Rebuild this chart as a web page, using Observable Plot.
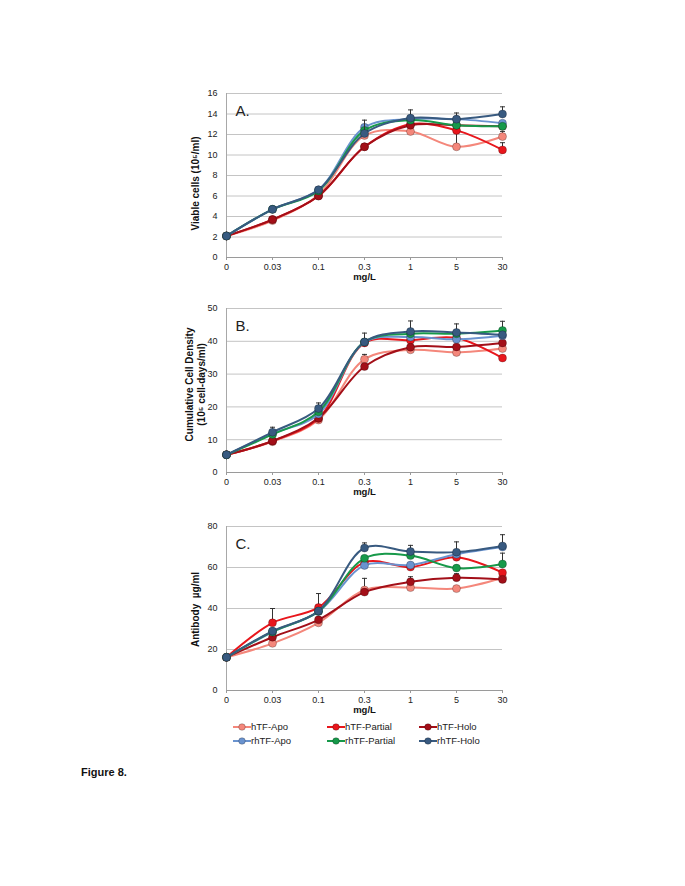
<!DOCTYPE html>
<html><head><meta charset="utf-8">
<script src="https://cdn.jsdelivr.net/npm/d3@7"></script>
<script src="https://cdn.jsdelivr.net/npm/@observablehq/plot@0.6"></script>
<style>
body{margin:0;background:#fff;font-family:"Liberation Sans",Arial,sans-serif;}
#page{position:relative;width:685px;height:886px;overflow:hidden;background:#fff;}
.panel{position:absolute;left:180px;}
.li{position:absolute;font-size:9.5px;color:#222;white-space:nowrap;line-height:12px;}
.li svg{position:absolute;top:1px;}
#fig{position:absolute;left:81px;top:766px;font-size:11px;font-weight:bold;color:#111;}
</style></head>
<body><div id="page"></div>
<script>
const doses = ["0","0.03","0.1","0.3","1","5","30"];
const series = ["hTF-Apo","hTF-Partial","hTF-Holo","rhTF-Apo","rhTF-Partial","rhTF-Holo"];
const colors = ["#f4877b","#e8161c","#a30f18","#6a93cf","#17994a","#385a80"];

// Panel A: Viable cells (10^5/ml)
const viable_hApo  = [2.1,3.6,6.1,11.9,12.3,10.8,11.8];
const viable_hPart = [2.1,3.7,6.0,10.8,13.0,12.4,10.5];
const viable_hHolo = [2.1,3.7,6.0,10.8,12.9,12.9,12.8];
const viable_rApo  = [2.1,4.7,6.6,12.7,13.5,13.5,13.1];
const viable_rPart = [2.1,4.7,6.5,12.4,13.4,12.9,12.8];
const viable_rHolo = [2.1,4.7,6.6,12.1,13.6,13.5,14.0];
const viable_err = [[5,3,1.3],[5,4,0.8],[5,5,0.6],[5,6,0.7],[0,5,2.0],[1,6,0.7],[0,6,0.5]]; // [series, dose, +err]

// Panel B: Cumulative cell density
const ccd_hApo  = [5.4,9.4,16.0,34.5,37.4,36.6,37.8];
const ccd_hPart = [5.4,9.6,16.5,39.5,40.3,41.0,34.9];
const ccd_hHolo = [5.4,9.6,16.6,32.3,38.2,38.3,39.5];
const ccd_rApo  = [5.4,11.8,17.8,39.7,41.3,40.6,41.7];
const ccd_rPart = [5.4,11.6,18.5,39.8,42.3,42.3,43.3];
const ccd_rHolo = [5.4,12.3,19.5,39.8,43.0,42.7,42.0];
const ccd_err = [[5,1,1.5],[5,2,1.7],[5,3,2.7],[5,4,3.2],[5,5,2.6],[4,6,2.8],[0,3,1.5]];

// Panel C: Antibody µg/ml
const ab_hApo  = [16.2,23.0,33.0,49.0,50.2,49.7,55.0];
const ab_hPart = [16.2,33.0,40.5,62.5,60.2,65.0,57.5];
const ab_hHolo = [16.2,26.0,34.5,48.0,53.0,55.0,54.2];
const ab_rApo  = [16.2,28.5,38.5,61.0,61.2,66.5,70.0];
const ab_rPart = [16.2,28.7,38.6,64.5,65.8,59.7,61.7];
const ab_rHolo = [16.2,29.0,38.8,69.5,67.8,67.5,70.5];
const ab_err = [[1,1,7],[1,2,6.8],[5,3,2.5],[0,3,5.7],[5,4,3],[2,4,2.5],[5,5,5],[2,5,2],[5,6,5.5],[4,6,5.3]];

const yTicksA = [0,2,4,6,8,10,12,14,16];
const yTicksB = [0,10,20,30,40,50];
const yTicksC = [0,20,40,60,80];

const cap = {draw(ctx){ ctx.moveTo(-2.5,0); ctx.lineTo(2.5,0); }};
const page = document.getElementById("page");

function panel(values, errs, ticks, yLabel, letter, top, labelDy) {
  const rows = [];
  series.forEach((s,i)=>values[i].forEach((v,j)=>rows.push({series:s, si:i, dose:doses[j], v})));
  const erows = errs.map(([si,dj,e])=>({series:series[si], si, dose:doses[dj], v:values[si][dj], top:values[si][dj]+e}));
  const marks = [
    Plot.gridY(ticks, {stroke:"#c4c4c4", strokeOpacity:1}),
    Plot.ruleX([doses[0]], {stroke:"#a8a8a8"}),
    Plot.ruleY([0], {stroke:"#9a9a9a"}),
    Plot.axisY(ticks, {tickSize:0, tickPadding:9, fontSize:9, label:null}),
    Plot.axisX({tickSize:3, tickPadding:3, fontSize:9, label:null, stroke:"#9a9a9a"}),
    Plot.text([yLabel], {frameAnchor:"left", textAnchor:"middle", rotate:-90, dx:-31, dy:labelDy, fontWeight:"bold", fontSize:10, lineHeight:1.15, fill:"#111"}),
    Plot.text(["mg/L"], {frameAnchor:"bottom", dy:22, fontWeight:"bold", fontSize:9.5, fill:"#111"}),
    Plot.text([letter], {frameAnchor:"top-left", dx:9, dy:12, fontSize:15, textAnchor:"start", fill:"#222"})
  ];
  series.forEach((s,i)=>{
    const d = rows.filter(r=>r.si===i);
    const e = erows.filter(r=>r.si===i);
    marks.push(Plot.line(d, {x:"dose", y:"v", stroke:"series", strokeWidth:2, curve:"catmull-rom"}));
    marks.push(Plot.ruleX(e, {x:"dose", y1:"v", y2:"top", stroke:"#333", strokeWidth:1}));
    marks.push(Plot.dot(e, {x:"dose", y:"top", symbol:cap, stroke:"#333", strokeWidth:1}));
    marks.push(Plot.dot(d, {x:"dose", y:"v", fill:"series", stroke:"#000", strokeOpacity:0.3, strokeWidth:0.8, r:4}));
  });
  const svg = Plot.plot({
    width:340, height:206, marginLeft:46, marginRight:18, marginTop:10, marginBottom:32,
    style:{fontFamily:"'Liberation Sans', Arial, sans-serif", fontSize:"9px", color:"#222", background:"transparent", overflow:"visible"},
    x:{type:"point", domain:doses, padding:0},
    y:{domain:[ticks[0], ticks[ticks.length-1]]},
    color:{domain:series, range:colors},
    marks
  });
  svg.classList.add("panel");
  svg.style.top = top + "px";
  page.appendChild(svg);
}

panel([viable_hApo,viable_hPart,viable_hHolo,viable_rApo,viable_rPart,viable_rHolo], viable_err, yTicksA, "Viable cells (10\u2075/ml)", "A.", 83, 8);
panel([ccd_hApo,ccd_hPart,ccd_hHolo,ccd_rApo,ccd_rPart,ccd_rHolo], ccd_err, yTicksB, "Cumulative Cell Density\n(10\u2075 cell-days/ml)", "B.", 298, -6);
panel([ab_hApo,ab_hPart,ab_hHolo,ab_rApo,ab_rPart,ab_rHolo], ab_err, yTicksC, "Antibody  \u00b5g/ml", "C.", 516, 1);

// legend
const legX = [233, 327, 419], legY = [721, 735];
series.forEach((s,i)=>{
  const col = i % 3, row = Math.floor(i/3);
  const div = document.createElement("div");
  div.className = "li";
  div.style.left = legX[col] + "px";
  div.style.top = legY[row] + "px";
  div.innerHTML = `<svg width="18" height="10" style="left:0"><line x1="0" y1="5" x2="18" y2="5" stroke="${colors[i]}" stroke-width="2"/><circle cx="9" cy="5" r="3.3" fill="${colors[i]}" stroke="rgba(0,0,0,0.3)" stroke-width="0.8"/></svg><span style="margin-left:18px">${s}</span>`;
  page.appendChild(div);
});
const fig = document.createElement("div");
fig.id = "fig"; fig.textContent = "Figure 8.";
page.appendChild(fig);
</script>
</body></html>
